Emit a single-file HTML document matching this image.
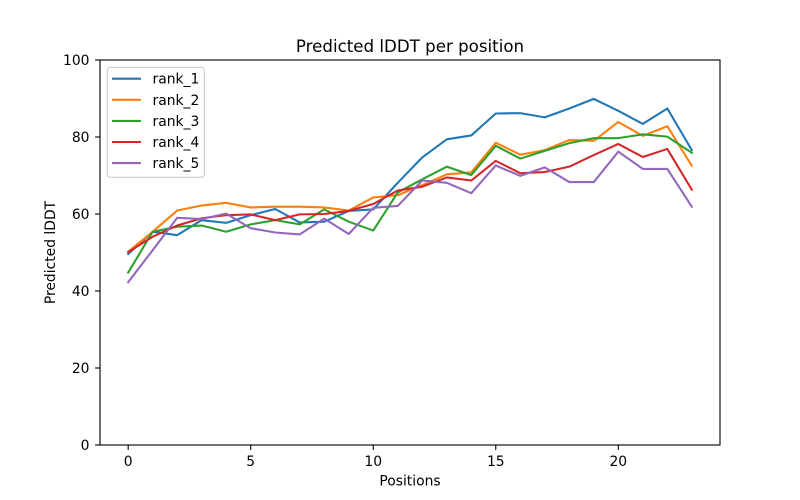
<!DOCTYPE html>
<html>
<head>
<meta charset="utf-8">
<style>
html,body{margin:0;padding:0;background:#fff;}
svg{display:block;}
text{font-family:"DejaVu Sans","Liberation Sans",sans-serif;fill:#000;}
</style>
</head>
<body>
<svg width="800" height="500" viewBox="0 0 800 500" xmlns="http://www.w3.org/2000/svg">
<rect x="0" y="0" width="800" height="500" fill="#fff"/>
<text x="410" y="52" font-size="16.67" text-anchor="middle">Predicted lDDT per position</text>

<g transform="translate(128.18,445) scale(24.506,-3.85)" fill="none" stroke-width="2.08" stroke-linejoin="round" stroke-linecap="square">
<polyline vector-effect="non-scaling-stroke" stroke="#1f77b4" points="0,49.6 1,55.4 2,54.5 3,58.4 4,57.7 5,59.7 6,61.3 7,57.8 8,58.0 9,60.8 10,61.2 11,68.1 12,74.7 13,79.4 14,80.4 15,86.1 16,86.2 17,85.1 18,87.4 19,89.9 20,86.8 21,83.4 22,87.4 23,76.6"/>
<polyline vector-effect="non-scaling-stroke" stroke="#ff7f0e" points="0,50.2 1,55.4 2,60.9 3,62.2 4,62.9 5,61.7 6,61.9 7,61.9 8,61.7 9,60.9 10,64.3 11,64.9 12,67.5 13,70.3 14,70.8 15,78.5 16,75.4 17,76.6 18,79.2 19,79.0 20,83.9 21,80.3 22,82.8 23,72.5"/>
<polyline vector-effect="non-scaling-stroke" stroke="#2ca02c" points="0,44.8 1,55.4 2,56.7 3,57.0 4,55.4 5,57.3 6,58.4 7,57.3 8,61.2 9,58.0 10,55.7 11,65.6 12,69.0 13,72.3 14,70.1 15,77.7 16,74.4 17,76.4 18,78.4 19,79.7 20,79.7 21,80.7 22,80.1 23,75.9"/>
<polyline vector-effect="non-scaling-stroke" stroke="#d62728" points="0,50.1 1,54.1 2,57.0 3,58.9 4,59.7 5,59.9 6,58.4 7,59.9 8,60.0 9,60.8 10,62.6 11,66.1 12,67.1 13,69.5 14,68.7 15,73.8 16,70.6 17,70.9 18,72.3 19,75.3 20,78.2 21,74.8 22,76.9 23,66.3"/>
<polyline vector-effect="non-scaling-stroke" stroke="#9467bd" points="0,42.3 1,50.6 2,59.0 3,58.7 4,60.1 5,56.3 6,55.2 7,54.7 8,58.8 9,54.8 10,61.6 11,62.1 12,68.7 13,68.1 14,65.4 15,72.6 16,69.9 17,72.1 18,68.3 19,68.3 20,76.2 21,71.7 22,71.7 23,61.9"/>
</g>

<rect x="100" y="60" width="620" height="385" fill="none" stroke="#000" stroke-width="1.11"/>

<g stroke="#000" stroke-width="1.11">
<line x1="128.18" y1="445" x2="128.18" y2="449.9"/>
<line x1="250.71" y1="445" x2="250.71" y2="449.9"/>
<line x1="373.24" y1="445" x2="373.24" y2="449.9"/>
<line x1="495.77" y1="445" x2="495.77" y2="449.9"/>
<line x1="618.30" y1="445" x2="618.30" y2="449.9"/>
<line x1="95.1" y1="445" x2="100" y2="445"/>
<line x1="95.1" y1="368" x2="100" y2="368"/>
<line x1="95.1" y1="291" x2="100" y2="291"/>
<line x1="95.1" y1="214" x2="100" y2="214"/>
<line x1="95.1" y1="137" x2="100" y2="137"/>
<line x1="95.1" y1="60" x2="100" y2="60"/>
</g>

<g font-size="13.89" text-anchor="middle">
<text x="128.18" y="466">0</text>
<text x="250.71" y="466">5</text>
<text x="373.24" y="466">10</text>
<text x="495.77" y="466">15</text>
<text x="618.30" y="466">20</text>
</g>
<g font-size="13.89" text-anchor="end">
<text x="89.5" y="450">0</text>
<text x="89.5" y="373">20</text>
<text x="89.5" y="296">40</text>
<text x="89.5" y="219">60</text>
<text x="89.5" y="142">80</text>
<text x="89.5" y="65">100</text>
</g>

<text x="410" y="485.5" font-size="13.89" text-anchor="middle">Positions</text>
<text transform="translate(55,252.5) rotate(-90)" font-size="13.89" text-anchor="middle">Predicted lDDT</text>

<rect x="107.3" y="67.3" width="97" height="110" rx="3" ry="3" fill="#fff" fill-opacity="0.8" stroke="#cccccc" stroke-width="1.11"/>
<g stroke-width="2.08">
<line x1="112" y1="78.7" x2="141" y2="78.7" stroke="#1f77b4"/>
<line x1="112" y1="99.8" x2="141" y2="99.8" stroke="#ff7f0e"/>
<line x1="112" y1="120.9" x2="141" y2="120.9" stroke="#2ca02c"/>
<line x1="112" y1="142" x2="141" y2="142" stroke="#d62728"/>
<line x1="112" y1="163.1" x2="141" y2="163.1" stroke="#9467bd"/>
</g>
<g font-size="13.89">
<text x="152.5" y="83.7">rank_1</text>
<text x="152.5" y="104.8">rank_2</text>
<text x="152.5" y="125.9">rank_3</text>
<text x="152.5" y="147">rank_4</text>
<text x="152.5" y="168.1">rank_5</text>
</g>
</svg>
</body>
</html>
